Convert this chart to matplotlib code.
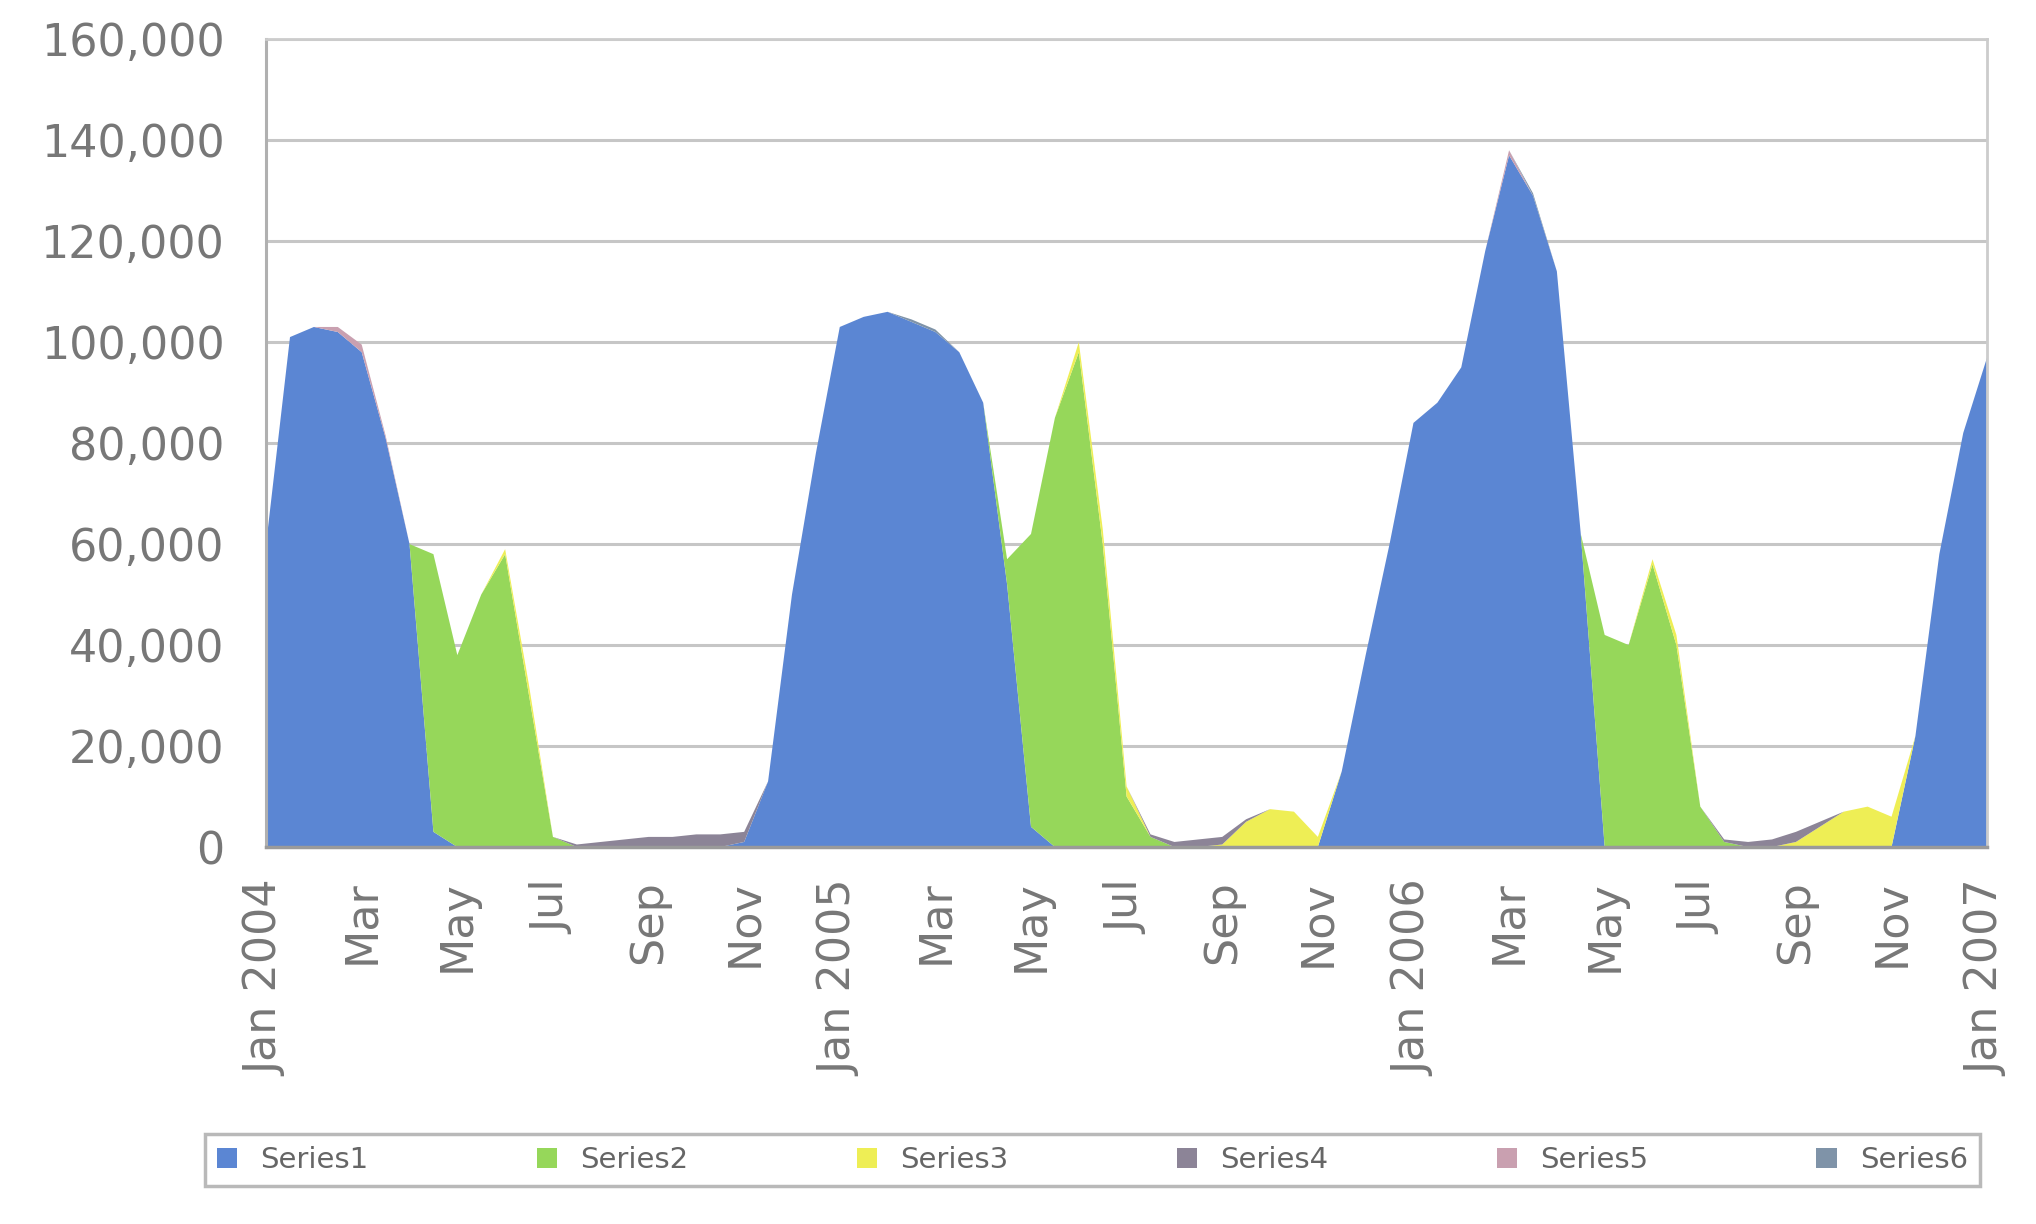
import numpy as np
import matplotlib
matplotlib.use("Agg")
import matplotlib.pyplot as plt
from matplotlib.ticker import FuncFormatter, MultipleLocator

# ---- data (thousands), semi-monthly points Jan 2004 .. Jan 2007 ----
series_names = ["Series1", "Series2", "Series3", "Series4", "Series5", "Series6"]

blue_k = [60, 101, 103, 102, 98, 81, 60, 3, 0, 0, 0, 0, 0, 0, 0, 0, 0, 0, 0, 0, 1, 13, 50, 78,
          103, 105, 106, 104, 102, 98, 88, 52, 4, 0, 0, 0, 0, 0, 0, 0, 0, 0, 0, 0, 0, 15, 38, 60,
          84, 88, 95, 118, 137, 129, 114, 62, 0, 0, 0, 0, 0, 0, 0, 0, 0, 0, 0, 0, 0, 22, 58, 82,
          97]
green_k = [0, 0, 0, 0, 0, 0, 0, 55, 38, 50, 58, 30, 2, 0, 0, 0, 0, 0, 0, 0, 0, 0, 0, 0,
           0, 0, 0, 0, 0, 0, 0, 5, 58, 85, 98, 60, 10, 2, 0, 0, 0, 0, 0, 0, 0, 0, 0, 0,
           0, 0, 0, 0, 0, 0, 0, 0, 42, 40, 56, 40, 8, 1, 0, 0, 0, 0, 0, 0, 0, 0, 0, 0,
           0]
yellow_k = [0, 0, 0, 0, 0, 0, 0, 0, 0, 0, 1, 2, 0, 0, 0, 0, 0, 0, 0, 0, 0, 0, 0, 0,
            0, 0, 0, 0, 0, 0, 0, 0, 0, 0, 2, 3, 2, 0, 0, 0, 0.5, 5, 7.5, 7, 2, 0, 0, 0,
            0, 0, 0, 0, 0, 0, 0, 0, 0, 0, 1, 2, 0, 0, 0, 0, 1, 4, 7, 8, 6, 0, 0, 0,
            0]
s4_k = [0, 0, 0, 0, 0, 0, 0, 0, 0, 0, 0, 0, 0, 0.5, 1, 1.5, 2, 2, 2.5, 2.5, 2, 0, 0, 0,
        0, 0, 0, 0, 0, 0, 0, 0, 0, 0, 0, 0, 0, 0.5, 1, 1.5, 1.5, 0.5, 0, 0, 0, 0, 0, 0,
        0, 0, 0, 0, 0, 0, 0, 0, 0, 0, 0, 0, 0, 0.5, 1, 1.5, 2, 1, 0, 0, 0, 0, 0, 0,
        0]
s5_k = [0, 0, 0, 1, 1.5, 0.5, 0, 0, 0, 0, 0, 0, 0, 0, 0, 0, 0, 0, 0, 0, 0, 0, 0, 0,
        0, 0, 0, 0, 0, 0, 0, 0, 0, 0, 0, 0, 0, 0, 0, 0, 0, 0, 0, 0, 0, 0, 0, 0,
        0, 0, 0, 0, 1, 0, 0, 0, 0, 0, 0, 0, 0, 0, 0, 0, 0, 0, 0, 0, 0, 0, 0, 0,
        0]
s6_k = [0, 0, 0, 0, 0, 0, 0, 0, 0, 0, 0, 0, 0, 0, 0, 0, 0, 0, 0, 0, 0, 0, 0, 0,
        0, 0, 0, 0.5, 0.5, 0, 0, 0, 0, 0, 0, 0, 0, 0, 0, 0, 0, 0, 0, 0, 0, 0, 0, 0,
        0, 0, 0, 0, 0, 0.5, 0, 0, 0, 0, 0, 0, 0, 0, 0, 0, 0, 0, 0, 0, 0, 0, 0, 0,
        0]

x_labels = ["Jan 2004", "Mar", "May", "Jul", "Sep", "Nov",
            "Jan 2005", "Mar", "May", "Jul", "Sep", "Nov",
            "Jan 2006", "Mar", "May", "Jul", "Sep", "Nov",
            "Jan 2007"]

# ---- styling ----
fill_colors = ["#5b86d3", "#96d75a", "#eeee55", "#8c8497", "#c9a0b0", "#7f93a8"]
txt_col = "#777777"

values = [np.array(v, dtype=float) * 1000 for v in
          (blue_k, green_k, yellow_k, s4_k, s5_k, s6_k)]
x = np.arange(len(blue_k))

fig = plt.figure(figsize=(20.36, 12.24), dpi=100)
ax = fig.add_axes([0.1307, 0.308, 0.8453, 0.660])

polys = ax.stackplot(x, *values, colors=fill_colors, labels=series_names,
                     linewidth=0, zorder=2)

ax.set_xlim(0, len(blue_k) - 1)
ax.set_ylim(0, 160000)
ax.yaxis.set_major_locator(MultipleLocator(20000))
ax.yaxis.set_major_formatter(FuncFormatter(lambda v, p: f"{v:,.0f}"))

step = (len(blue_k) - 1) // (len(x_labels) - 1)
ax.set_xticks(x[::step])
ax.set_xticklabels(x_labels, rotation=90)
ax.set_xticks(x[::step * 6], minor=True)

ax.set_axisbelow(True)
ax.grid(axis="y", which="major", color="#c6c6c6", linewidth=2.2)
ax.xaxis.grid(True, which="minor", color="#c8c8c8", linewidth=1.8)
ax.xaxis.grid(False, which="major")

ax.tick_params(axis="both", which="both", length=0, labelsize=32, labelcolor=txt_col)
ax.tick_params(axis="y", pad=30)
ax.tick_params(axis="x", pad=24)

for side in ["top", "right"]:
    ax.spines[side].set_color("#cccccc")
    ax.spines[side].set_linewidth(2)
ax.spines["left"].set_color("#b0b0b0")
ax.spines["left"].set_linewidth(2.2)
ax.spines["bottom"].set_color("#9a9a9a")
ax.spines["bottom"].set_linewidth(2.5)

leg = fig.legend(polys, series_names, loc="center",
                 bbox_to_anchor=(0.1007, 0.0188, 0.8718, 0.067), mode="expand",
                 ncol=6, fontsize=21, frameon=True, fancybox=False,
                 edgecolor="#a8a8a8", handlelength=0.7, handleheight=0.7,
                 borderaxespad=0, labelcolor="#666666")
leg.get_frame().set_linewidth(2.5)

fig.savefig("out.png", dpi=100)
